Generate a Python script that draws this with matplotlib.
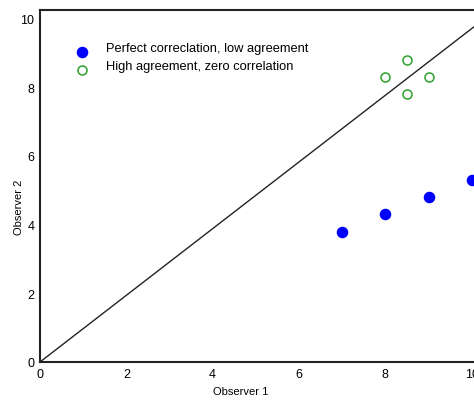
import matplotlib.pyplot as plt

plt.rcParams['font.family'] = ['Liberation Sans', 'DejaVu Sans']

# data
low_agree_x = [7, 8, 9, 10]
low_agree_y = [3.8, 4.3, 4.8, 5.3]
zero_corr_x = [8, 8.5, 9, 8.5]
zero_corr_y = [8.3, 8.8, 8.3, 7.8]
diag_x = [0, 12]
diag_y = [0, 11.65]
ticks = [0, 2, 4, 6, 8, 10]

W, H = 474, 402
fig = plt.figure(figsize=(W / 100, H / 100), dpi=100)
# axes runs past the right edge, as in the cropped original
ax = fig.add_axes([40 / W, 39 / H, 518 / W, 352 / H])

ax.plot(diag_x, diag_y, color='#222222', linewidth=1.0)

ax.plot(low_agree_x, low_agree_y, 'o', color='#0000ff', markersize=7.3,
        linestyle='None', label='Perfect correclation, low agreement', clip_on=False)
ax.plot(zero_corr_x, zero_corr_y, 'o', markerfacecolor='none', markeredgecolor='#2ca02c',
        markeredgewidth=1.1, markersize=6.5, linestyle='None',
        label='High agreement, zero correlation')

ax.set_xlim(0, 12)
ax.set_ylim(0, 10.25)
ax.set_xticks(ticks)
ax.set_yticks(ticks)
ax.tick_params(length=0, labelsize=9)
ax.tick_params(axis='y', pad=4)
ax.tick_params(axis='x', pad=4)
for s in ax.spines.values():
    s.set_linewidth(1.5)
    s.set_color('#222222')

ax.set_xlabel('Observer 1', fontsize=8)
ax.set_ylabel('Observer 2', fontsize=8)
ax.xaxis.set_label_coords((241 - 40) / 518, -(387 - 363) / 352)
ax.yaxis.set_label_coords(-(40 - 24) / 518, (363 - 207) / 352)

leg = ax.legend(loc='upper left', bbox_to_anchor=(63 / W, 365 / H), bbox_transform=fig.transFigure,
                frameon=False, fontsize=9.3, handletextpad=1.2, labelspacing=0.45,
                handlelength=1.2)
# text sits a little above its marker in the original
for t in leg.get_texts():
    t.set_position((0, 6))

fig.savefig('out.png', dpi=100)
